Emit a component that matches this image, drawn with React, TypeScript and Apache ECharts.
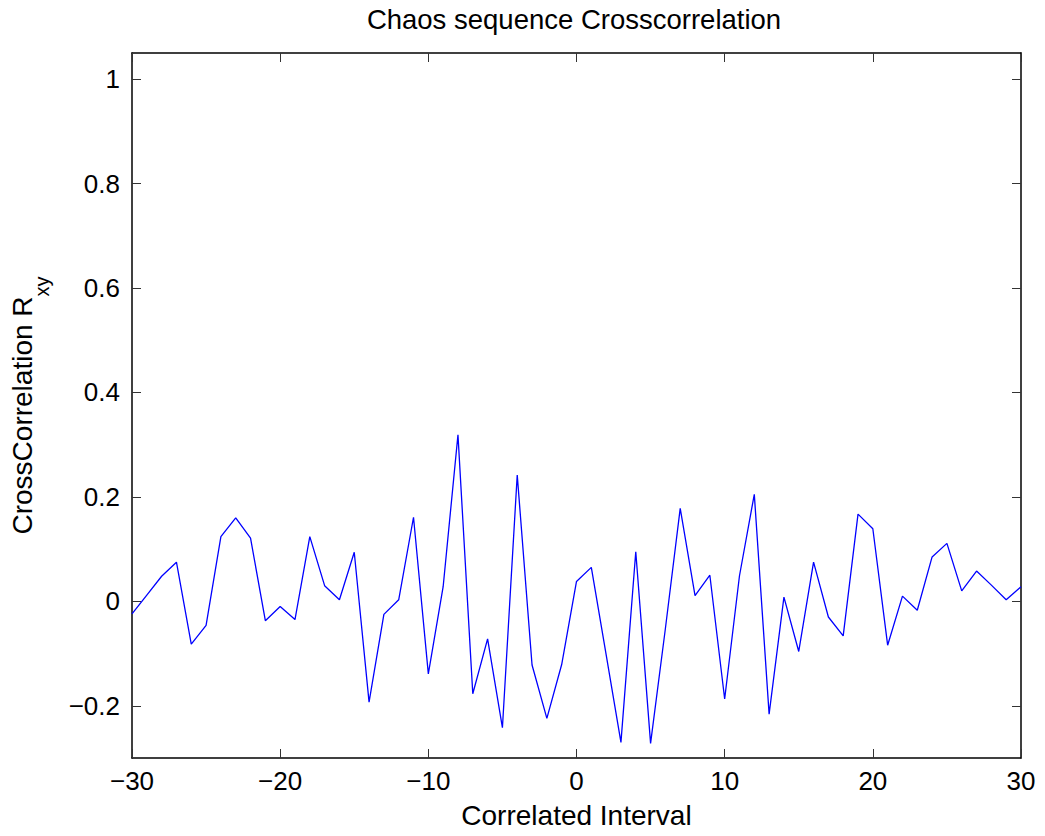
import React, { useEffect, useRef } from "react";
import * as echarts from "echarts";

const lags = [
  -30, -29, -28, -27, -26, -25, -24, -23, -22, -21, -20, -19, -18, -17, -16, -15,
  -14, -13, -12, -11, -10, -9, -8, -7, -6, -5, -4, -3, -2, -1, 0, 1, 2, 3, 4, 5,
  6, 7, 8, 9, 10, 11, 12, 13, 14, 15, 16, 17, 18, 19, 20, 21, 22, 23, 24, 25, 26,
  27, 28, 29, 30,
];

const rxy = [
  -0.024, 0.012, 0.048, 0.075, -0.082, -0.046, 0.124, 0.16, 0.121, -0.037, -0.01,
  -0.035, 0.124, 0.03, 0.003, 0.094, -0.193, -0.025, 0.003, 0.161, -0.139, 0.028,
  0.319, -0.177, -0.072, -0.242, 0.242, -0.122, -0.224, -0.121, 0.038, 0.065,
  -0.102, -0.27, 0.095, -0.272, -0.052, 0.178, 0.011, 0.05, -0.187, 0.049, 0.205,
  -0.216, 0.008, -0.096, 0.075, -0.03, -0.066, 0.167, 0.139, -0.084, 0.01, -0.017,
  0.085, 0.111, 0.02, 0.058, 0.031, 0.003, 0.028,
];

const xTicks = [-30, -20, -10, 0, 10, 20, 30];
const yTicks = [-0.2, 0, 0.2, 0.4, 0.6, 0.8, 1];

const titleText = "Chaos sequence Crosscorrelation";
const xName = "Correlated Interval";
const yNameMain = "CrossCorrelation R";
const yNameSub = "xy";

const FONT = "'Liberation Sans', Arial, Helvetica, sans-serif";

const fmt = (v: number) => {
  const s = String(Math.round(v * 1000) / 1000);
  return s.replace("-", "\u2212");
};

export default function App() {
  const ref = useRef<HTMLDivElement>(null);

  useEffect(() => {
    if (!ref.current) return;
    const chart = echarts.init(ref.current, undefined, { renderer: "svg" });

    const frameLine = { show: true, onZero: false, lineStyle: { color: "#000", width: 1.5 } };
    const tick = (vals: number[]) => ({
      show: true,
      inside: true,
      length: 9,
      customValues: vals,
      lineStyle: { color: "#333", width: 1 },
    });

    chart.setOption({
      animation: false,
      backgroundColor: "#fff",
      grid: { left: 127, right: 24, top: 53, bottom: 78, containLabel: false },
      graphic: [
        {
          type: "text",
          x: 574,
          y: 5,
          style: {
            text: titleText,
            fontSize: 27.5,
            fontFamily: FONT,
            fill: "#000",
            textAlign: "center",
            textVerticalAlign: "top",
          },
        },
      ],
      xAxis: [
        {
          type: "value",
          position: "bottom",
          min: -30,
          max: 30,
          interval: 10,
          axisLine: frameLine,
          axisTick: tick(xTicks),
          axisLabel: {
            customValues: xTicks,
            formatter: fmt,
            fontSize: 26,
            fontFamily: FONT,
            color: "#000",
            margin: 10,
          },
          splitLine: { show: false },
          name: xName,
          nameLocation: "middle",
          nameGap: 43,
          nameTextStyle: { fontSize: 28, fontFamily: FONT, color: "#000" },
        },
        {
          type: "value",
          position: "top",
          min: -30,
          max: 30,
          interval: 10,
          axisLine: frameLine,
          axisTick: tick(xTicks),
          axisLabel: { show: false },
          splitLine: { show: false },
        },
      ],
      yAxis: [
        {
          type: "value",
          position: "left",
          min: -0.3,
          max: 1.05,
          axisLine: frameLine,
          axisTick: tick(yTicks),
          axisLabel: {
            customValues: yTicks,
            formatter: fmt,
            fontSize: 26,
            fontFamily: FONT,
            color: "#000",
            margin: 12,
          },
          splitLine: { show: false },
          name: `{a|${yNameMain}}{b|${yNameSub}}`,
          nameLocation: "middle",
          nameRotate: 90,
          nameGap: 80,
          nameTextStyle: {
            rich: {
              a: { fontSize: 28, fontFamily: FONT, color: "#000", verticalAlign: "top" },
              b: {
                fontSize: 20,
                fontFamily: FONT,
                color: "#000",
                verticalAlign: "top",
                padding: [24, 0, 0, 0],
              },
            },
          },
        },
        {
          type: "value",
          position: "right",
          min: -0.3,
          max: 1.05,
          axisLine: frameLine,
          axisTick: tick(yTicks),
          axisLabel: { show: false },
          splitLine: { show: false },
        },
      ],
      series: [
        {
          type: "line",
          data: lags.map((x, i) => [x, rxy[i]]),
          xAxisIndex: 0,
          yAxisIndex: 0,
          showSymbol: false,
          symbol: "none",
          lineStyle: { color: "#0000ff", width: 1.3 },
          clip: true,
        },
      ],
    });

    return () => chart.dispose();
  }, []);

  return (
    <div
      ref={ref}
      style={{ position: "fixed", left: 0, top: 0, width: 1045, height: 836, background: "#fff" }}
    />
  );
}
